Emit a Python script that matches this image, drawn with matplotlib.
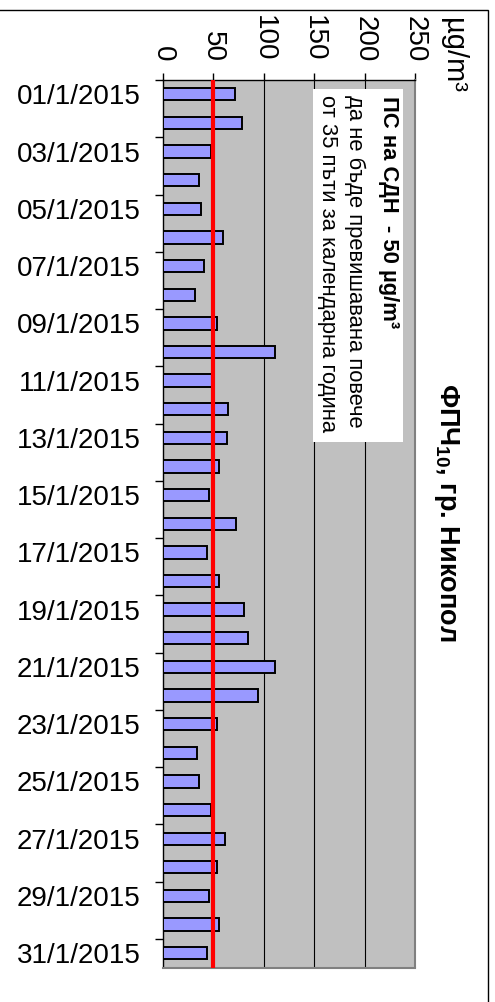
import numpy as np
import matplotlib; matplotlib.use('Agg')
import matplotlib.pyplot as plt
import matplotlib.patches as mpatches

plt.rcParams['font.family'] = ['Liberation Sans', 'DejaVu Sans']
plt.rcParams['mathtext.fontset'] = 'custom'
plt.rcParams['mathtext.rm'] = 'Liberation Sans'
plt.rcParams['mathtext.bf'] = 'Liberation Sans:bold'

# daily PM10, Nikopol, January 2015 (ug/m3)
dates = [f'{d:02d}/1/2015' for d in range(1, 32)]
pm10 = [72, 79, 48, 36, 38, 60, 41, 32, 54, 111,
        50, 65, 64, 56, 46, 73, 44, 56, 81, 85,
        111, 95, 54, 34, 36, 48, 62, 54, 46, 56, 44]
limit = 50
xticks = [0, 50, 100, 150, 200, 250]

W, H = 495, 1002
fig = plt.figure(figsize=(W/100, H/100), dpi=100)
fig.patch.set_facecolor('white')

# plot area in pixel terms
x0, x1, y0, y1 = 162.5, 415, 80, 967.5
ax = fig.add_axes([x0/W, 1-y1/H, (x1-x0)/W, (y1-y0)/H])
ax.set_facecolor('#C0C0C0')

n = len(pm10)
ypos = np.arange(n)
ax.barh(ypos, pm10, height=0.43, color='#9999FF', edgecolor='black', lw=1.4, zorder=3)
for g in [100, 150, 200]:
    ax.axvline(g, color='black', lw=0.8, zorder=1)
ax.axvline(limit, color='red', lw=3, zorder=4)

ax.set_xlim(0, 250)
ax.set_ylim(n-0.5, -0.5)

# value axis on top, labels rotated with the page
ax.xaxis.tick_top()
ax.set_xticks(xticks)
ax.set_xticklabels([str(v) for v in xticks], rotation=-90, fontsize=20)
ax.tick_params(axis='x', length=5, width=1, pad=8, direction='out')

# category axis: tick marks every 2 days between categories, labels on odd days
ax.set_yticks(np.arange(-0.5, n, 2))
ax.set_yticklabels([])
ax.set_yticks(ypos[::2], minor=True)
ax.set_yticklabels(dates[::2], minor=True, fontsize=20)
ax.tick_params(axis='y', which='major', length=6, width=1, direction='out')
ax.tick_params(axis='y', which='minor', length=0, pad=16)

for s in ['left', 'top']:
    ax.spines[s].set_color('black'); ax.spines[s].set_linewidth(1)
for s in ['right', 'bottom']:
    ax.spines[s].set_color('#808080'); ax.spines[s].set_linewidth(1.5)

# legend-like note box
fig.patches.append(mpatches.Rectangle((313/W, 1-442/H), 90/W, 353/H, transform=fig.transFigure,
                                      facecolor='white', edgecolor='none', zorder=5))
fig.text(388/W, 1-96/H, 'ПС на СДН  - 50 µg/m³', rotation=-90, ha='center', va='top',
         fontsize=15.8, fontweight='bold', zorder=6)
fig.text(355/W, 1-95/H, 'да не бъде превишавана повече', rotation=-90, ha='center', va='top',
         fontsize=15.8, zorder=6)
fig.text(327/W, 1-95/H, 'от 35 пъти за календарна година', rotation=-90, ha='center', va='top',
         fontsize=15.8, zorder=6)

fig.text(446/W, 1-512/H, r'ФПЧ$_{\mathbf{10}}$, гр. Никопол', rotation=-90, ha='center', va='center',
         fontsize=19.5, fontweight='bold')
fig.text(453/W, 1-18/H, 'µg/m³', rotation=-90, ha='center', va='top', fontsize=21)

# outer chart frame
fig.patches.append(mpatches.Rectangle((-0.01, -0.01), 488/W+0.01, 1-10/H+0.01, transform=fig.transFigure,
                                      fill=False, edgecolor='black', lw=1))

fig.savefig('out.png', dpi=100)
